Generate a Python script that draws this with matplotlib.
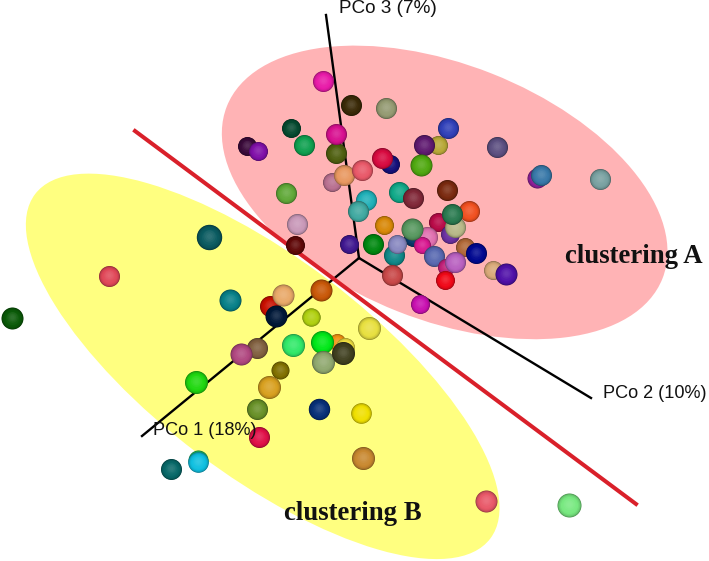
import matplotlib
matplotlib.use("Agg")
import numpy as np
import matplotlib.pyplot as plt
from matplotlib.patches import Ellipse
from matplotlib.colors import to_rgb

# Sample scores, back-to-front drawing order
a_x = [323,351,386,438,448,497,291,304,247,258,336,336,424,390,382,421,332,344,362,286,366,358,399,413,447,
       469,438,450,455,452,384,373,349,297,295,394,413,427,422,412,397,434,465,476,446,455,445,493,506,392,420,537,541,600]
a_y = [81,105,108,145,128,147,128,145,146,151,153,134,145,164,158,165,182,175,170,193,200,211,192,198,190,
       211,222,234,227,214,225,244,244,224,245,255,237,237,245,229,244,256,247,253,267,262,280,270,274,275,304,178,175,179]
a_col = ['#e81aa8','#3a2a08','#949a72','#b8a838','#3040b8','#5c4f80','#054a30','#0fa050','#3a0a3a','#8010a8','#4f5f10','#d81090',
         '#5f1a70','#15107a','#d80a40','#50a810','#b87090','#e89860','#e85868','#60a838','#20b0b8','#40a8a0','#10a888','#802838','#7a2a10',
         '#f05020','#b80a48','#6a30a0','#b8b888','#2a7a50','#d88808','#008810','#401890','#c898b8','#600808','#108888','#083868','#e070b0',
         '#d81890','#589860','#8888c0','#5868b0','#b06838','#000890','#c02078','#b860c0','#f00818','#d8a878','#5010a8','#c84848','#c810b0',
         '#90209a','#3878a8','#78a0a0']
a_r = [10.5,10.5,10.5,9.5,10.5,10.5,9.5,10.5,9.5,9.5,10.5,10.5,10.5,9.5,10.5,11,9.5,10.5,10.5,10.5,10.5,10.5,10.5,10.5,10.5,
       10.5,9.5,9.5,10.5,10.5,9.5,10.5,9.5,10.5,9.5,10.5,9.5,10.5,8.5,11,9.5,10.5,9.5,10.5,8.5,10.5,9.5,9.5,11,10.5,9.5,10,10.5,10.5]

b_x = [209,109,12,230,270,283,276,321,311,369,293,337,345,322,323,343,257,241,280,269,196,257,319,361,259,363,198,198,171,486,569]
b_y = [237,276,318,300,306,295,316,290,317,328,345,342,347,342,362,353,348,354,370,387,382,409,409,413,437,458,460,462,469,501,505]
b_col = ['#0a5a60','#e04858','#0a5a08','#088088','#c81000','#e8a868','#001838','#c85808','#b0d010','#e8e040','#30e868','#f09010',
         '#f0e040','#00e818','#90a870','#404020','#806040','#b04880','#807000','#d8a020','#20d810','#689028','#083078','#f0e000',
         '#e01048','#c88830','#20c060','#10c0e0','#086868','#e85868','#78e880']
b_r = [12.7,10.5,11,11,10.5,11,11,11,9.2,11.5,11.5,8.5,9.5,11.5,11.5,11.5,10.5,11,9,11.5,11.5,10.5,10.7,10.3,10.5,11.5,10,10.3,10.5,11,12]

# Points on the cluster boundaries
pink_x = [223,240,267,300,347,400,440,490,540,590,633,657,665,662,647,613,573,530,467,367,287,257,233]
pink_y = [127,87,63,52,46,48,57,73,97,130,167,207,243,273,303,327,337,340,330,297,247,217,177]
yellow_x = [23,37,80,133,187,363,380,430,467,493,500,490,443,383,320,253,187,153,100,57,30]
yellow_y = [223,190,173,180,200,300,327,377,427,477,517,547,560,550,527,487,440,427,363,300,250]

axis_ends = {'PCo 3 (7%)': (326, 15), 'PCo 2 (10%)': (591, 398), 'PCo 1 (18%)': (142, 436)}
origin = (359, 258)

def fit_ellipse(xs, ys):
    x, y = np.asarray(xs, float), np.asarray(ys, float)
    mx, my = x.mean(), y.mean()
    x, y = (x - mx) / 100, (y - my) / 100
    m = np.c_[x * x, x * y, y * y, x, y]
    A, B, C, D, E = np.linalg.lstsq(m, np.ones_like(x), rcond=None)[0]
    Q = np.array([[A, B / 2], [B / 2, C]])
    c = np.linalg.solve(2 * Q, [-D, -E])
    k = 1 + c @ Q @ c
    w, v = np.linalg.eigh(Q / k)
    theta = np.degrees(np.arctan2(v[1, 0], v[0, 0]))
    return (c[0] * 100 + mx, c[1] * 100 + my), 200 / np.sqrt(w[0]), 200 / np.sqrt(w[1]), theta

fig = plt.figure(figsize=(7.09, 5.61), dpi=100)
ax = fig.add_axes([0, 0, 1, 1])
ax.set_xlim(0, 709)
ax.set_ylim(561, 0)
ax.axis('off')

for xs, ys, col, zo in ((pink_x, pink_y, '#ffb3b5', 1), (yellow_x, yellow_y, '#ffff80', 1.1)):
    c, w, h, ang = fit_ellipse(xs, ys)
    print(c, w, h, ang)
    ax.add_patch(Ellipse(c, w, h, angle=ang, fc=col, ec='none', zorder=zo))

for name, end in axis_ends.items():
    ax.plot([origin[0], end[0]], [origin[1], end[1]], color='black', lw=1.7, zorder=2)
ax.plot([135, 636], [131, 504], color='#d9202a', lw=2.9, zorder=2.5)

def shade(c, k):
    r = to_rgb(c)
    if k < 1:
        return tuple(v * k for v in r)
    return tuple(v + (1 - v) * (k - 1) for v in r)

layers = [(1.0, .62), (.96, .78), (.9, .88), (.82, .95), (.72, 1.0), (.6, 1.03), (.48, 1.07), (.34, 1.11), (.2, 1.14)]
z = 3.0
for xs, ys, cols, rs in ((a_x, a_y, a_col, a_r), (b_x, b_y, b_col, b_r)):
    for x, y, c, r in zip(xs, ys, cols, rs):
        for frac, k in layers:
            off = (1 - frac) * 1.2
            ax.scatter([x], [y - off], s=(2 * r * frac * 0.72) ** 2, color=[shade(c, k)], linewidths=0, zorder=z)
            z += 0.001

ax.text(339, 8, 'PCo 3 (7%)', family='Liberation Sans', fontsize=13.6, va='center', ha='left', color='#111111', zorder=9)
ax.text(603, 393, 'PCo 2 (10%)', family='Liberation Sans', fontsize=13.1, va='center', ha='left', color='#111111', zorder=9)
ax.text(153, 430, 'PCo 1 (18%)', family='Liberation Sans', fontsize=13.1, va='center', ha='left', color='#111111', zorder=9)
ax.text(565, 256, 'clustering A', family='Liberation Serif', fontweight='bold', fontsize=19.3, va='center', ha='left', color='#111111', zorder=9)
ax.text(284, 514, 'clustering B', family='Liberation Serif', fontweight='bold', fontsize=19.3, va='center', ha='left', color='#111111', zorder=9)

fig.savefig('out.png', dpi=100)
